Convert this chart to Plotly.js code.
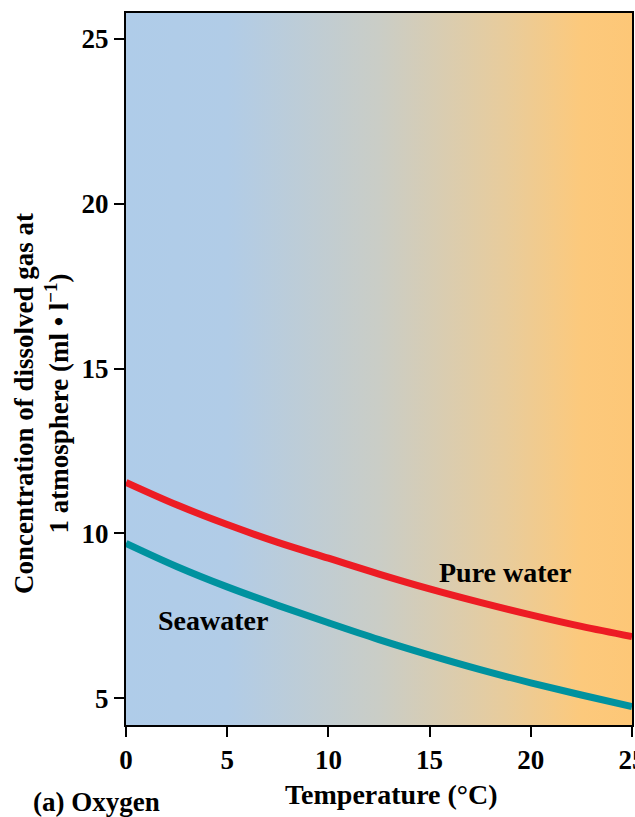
<!DOCTYPE html>
<html>
<head>
<meta charset="utf-8">
<script src="https://cdn.plot.ly/plotly-3.0.1.min.js"></script>
<style>html,body{margin:0;padding:0;background:#fff;}#chart{width:635px;height:817px;}</style>
</head>
<body>
<div id="chart"></div>
<script>
const temperature = [0, 2.5, 5, 7.5, 10, 12.5, 15, 17.5, 20, 22.5, 25];
const pureWater = [11.55, 10.87, 10.27, 9.73, 9.25, 8.77, 8.32, 7.91, 7.53, 7.18, 6.87];
const seawater = [9.70, 9.00, 8.38, 7.82, 7.29, 6.78, 6.31, 5.87, 5.47, 5.10, 4.75];
const xTicks = [0, 5, 10, 15, 20, 25];
const yTicks = [5, 10, 15, 20, 25];

const FONT = "'Liberation Serif', 'Times New Roman', serif";

const svg = '<svg xmlns="http://www.w3.org/2000/svg" width="500" height="100" preserveAspectRatio="none" viewBox="0 0 500 100">' +
  '<defs><linearGradient id="g" x1="0" y1="0" x2="1" y2="0">' +
  '<stop offset="0" stop-color="#afcce9"/>' +
  '<stop offset="0.2" stop-color="#b1cce7"/>' +
  '<stop offset="0.5" stop-color="#cacdc6"/>' +
  '<stop offset="0.75" stop-color="#e8cc9c"/>' +
  '<stop offset="0.9" stop-color="#fcc97c"/>' +
  '<stop offset="1" stop-color="#fdc777"/>' +
  '</linearGradient></defs><rect width="500" height="100" fill="url(#g)"/></svg>';
const bgSrc = 'data:image/svg+xml;charset=utf-8,' + encodeURIComponent(svg);

const traces = [
  {x: temperature, y: pureWater, mode: 'lines', line: {color: '#ed1c24', width: 7, shape: 'spline', smoothing: 1}, hoverinfo: 'skip', showlegend: false},
  {x: temperature, y: seawater, mode: 'lines', line: {color: '#00929f', width: 7, shape: 'spline', smoothing: 1}, hoverinfo: 'skip', showlegend: false}
];

const layout = {
  width: 635, height: 817,
  margin: {l: 126, r: 3, t: 13, b: 92, pad: 0},
  paper_bgcolor: '#ffffff',
  plot_bgcolor: 'rgba(0,0,0,0)',
  font: {family: FONT, color: '#000', size: 27},
  showlegend: false,
  xaxis: {
    range: [0, 25], tickvals: xTicks, ticktext: xTicks.map(String),
    ticks: 'outside', ticklen: 10, tickwidth: 2, tickcolor: '#000',
    showline: true, linecolor: '#000', linewidth: 2, mirror: true,
    showgrid: false, zeroline: false, ticklabeloverflow: 'allow',
    tickfont: {family: FONT, size: 27, weight: 'bold'}
  },
  yaxis: {
    range: [4.19, 25.79], tickvals: yTicks, ticktext: yTicks.map(String),
    ticks: 'outside', ticklen: 10, tickwidth: 2, tickcolor: '#000',
    showline: true, linecolor: '#000', linewidth: 2, mirror: true,
    showgrid: false, zeroline: false, ticklabeloverflow: 'allow',
    tickfont: {family: FONT, size: 27, weight: 'bold'}
  },
  images: [{
    source: bgSrc, xref: 'paper', yref: 'paper', x: 0, y: 1, sizex: 1, sizey: 1,
    sizing: 'stretch', xanchor: 'left', yanchor: 'top', layer: 'below'
  }],
  annotations: [
    {text: '<b>Pure water</b>', x: 18.72, y: 8.83, xref: 'x', yref: 'y', showarrow: false, font: {family: FONT, size: 28}},
    {text: '<b>Seawater</b>', x: 4.30, y: 7.35, xref: 'x', yref: 'y', showarrow: false, font: {family: FONT, size: 28}},
    {text: '<b>Temperature (°C)</b>', x: 391, y: 817 - 794, xref: 'paper', yref: 'paper', showarrow: false, font: {family: FONT, size: 28}},
    {text: '<b>(a) Oxygen</b>', x: 96, y: 817 - 802, xref: 'paper', yref: 'paper', showarrow: false, font: {family: FONT, size: 27}},
    {text: '<b>Concentration of dissolved gas at<br>1 atmosphere (ml • l<sup>−1</sup>)</b>', x: 41, y: 817 - 404, xref: 'paper', yref: 'paper', textangle: -90, showarrow: false, font: {family: FONT, size: 27}, align: 'center'}
  ]
};

// convert pixel positions for paper-referenced text annotations
const plotW = 635 - 126 - 3, plotH = 817 - 13 - 92;
layout.annotations.forEach(a => {
  a.xanchor = 'center';
  a.yanchor = 'middle';
  if (a.xref === 'paper') {
    a.x = (a.x - 126) / plotW;
    a.y = (a.y - 92) / plotH;
  }
});

Plotly.newPlot('chart', traces, layout, {staticPlot: true, displayModeBar: false});
</script>
</body>
</html>
